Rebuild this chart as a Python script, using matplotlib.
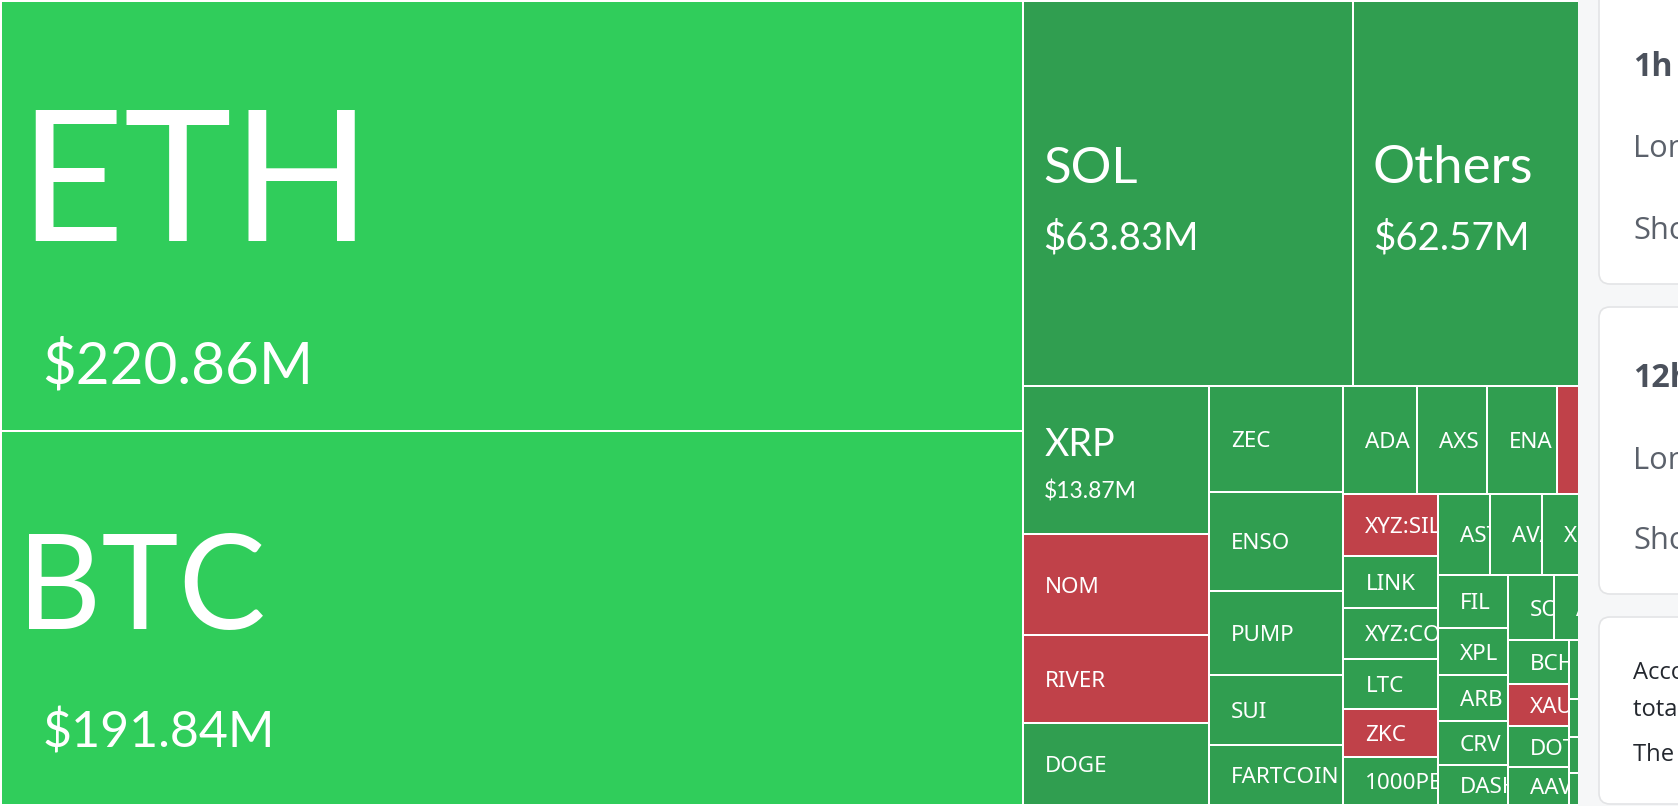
import matplotlib
matplotlib.use("Agg")
import matplotlib.pyplot as plt
from matplotlib.patches import Rectangle, FancyBboxPatch
from matplotlib.textpath import TextPath
from matplotlib.font_manager import FontProperties

# liquidations by coin, $M, in the order the treemap lays them out
coins = ["ETH", "BTC", "SOL", "Others", "XRP", "NOM", "RIVER", "DOGE",
         "ZEC", "ENSO", "PUMP", "SUI", "FARTCOIN",
         "ADA", "AXS", "ENA", "WLFI", "BNB",
         "XYZ:SILVER", "LINK", "XYZ:COPPER", "LTC", "ZKC", "1000PEPE",
         "ASTER", "AVAX", "XMR", "TRX", "UNI",
         "FIL", "XPL", "ARB", "CRV", "DASH",
         "SOON", "APT", "TAO", "NEAR",
         "BCH", "XAUT", "DOT", "AAVE",
         "ONDO", "OP", "TIA", "WIF", "INJ", "SEI", "JUP", "PENGU", "TON", "ETC"]
values = [220.86, 191.84, 63.83, 62.57, 13.87, 9.44, 8.22, 7.66,
          7.13, 6.73, 5.65, 4.71, 4.04,
          4.01, 3.80, 3.80, 3.50, 3.00,
          2.93, 2.45, 2.45, 2.36, 2.27, 2.27,
          2.12, 2.12, 2.10, 1.80, 1.62,
          1.86, 1.69, 1.62, 1.55, 1.41,
          1.50, 1.45, 1.35, 1.25,
          1.33, 1.27, 1.27, 1.15,
          1.10, 1.05, 1.04, 1.00, 0.93, 0.85, 0.80, 0.75, 0.72, 0.70]
# colour group of each cell
trend = ["hot", "hot", "up", "up", "up", "down", "down", "up",
         "up", "up", "up", "up", "up",
         "up", "up", "up", "down", "up",
         "down", "up", "up", "up", "down", "up",
         "up", "up", "up", "up", "up",
         "up", "up", "up", "up", "up",
         "up", "up", "up", "up",
         "up", "down", "up", "up",
         "up", "up", "up", "up", "up", "up", "up", "up", "up", "up"]

colors = {"hot": "#30CD5B", "up": "#309E50", "down": "#C04149"}

# big labels: (ink width px, ink left dx, baseline) for the name, then for the value
big_style = {
    "ETH":    ((320, 34, 240), (263, 44, 383)),
    "BTC":    ((234, 28, 198), (226, 44, 316)),
    "SOL":    ((92, 22, 182), (150, 22, 248)),
    "Others": ((156, 22, 182), (151, 22, 248)),
    "XRP":    ((69, 22, 70), (90, 22, 113)),
}

W, H = 1678, 806
PHI = (1 + 5 ** 0.5) / 2
BIG_FONT = ["Lato", "DejaVu Sans"]
SMALL_FONT = ["Noto Sans", "DejaVu Sans"]
PANEL_FONT = ["Open Sans", "DejaVu Sans"]


def squarify(vals, x0, y0, x1, y1, ratio=PHI):
    rects = [None] * len(vals)
    total = float(sum(vals))
    n = len(vals)
    i0 = 0
    while i0 < n:
        dx, dy = x1 - x0, y1 - y0
        s = vals[i0]
        lo = hi = s
        alpha = max(dy / dx, dx / dy) / (total * ratio)
        beta = s * s * alpha
        best = max(hi / beta, beta / lo)
        i1 = i0 + 1
        while i1 < n:
            v = vals[i1]
            s2 = s + v
            lo2, hi2 = min(lo, v), max(hi, v)
            beta = s2 * s2 * alpha
            r = max(hi2 / beta, beta / lo2)
            if r > best:
                break
            s, lo, hi, best = s2, lo2, hi2, r
            i1 += 1
        if dx < dy:
            h = dy * s / total
            x = x0
            for i in range(i0, i1):
                w = dx * vals[i] / s
                rects[i] = (x, y0, w, h)
                x += w
            y0 += h
        else:
            w = dx * s / total
            y = y0
            for i in range(i0, i1):
                h = dy * vals[i] / s
                rects[i] = (x0, y, w, h)
                y += h
            x0 += w
        total -= s
        i0 = i1
    return rects


def size_for_cap(family, cap_px, weight="normal"):
    fp = FontProperties(family=family, weight=weight)
    h = TextPath((0, 0), "H", size=100, prop=fp).get_extents().height
    return cap_px * 72.0 / h


def fit_width(family, text, width_px):
    # font size whose ink is width_px wide, and the ink's left bearing in px
    fp = FontProperties(family=family)
    ext = TextPath((0, 0), text, size=100, prop=fp).get_extents()
    fs = width_px * 72.0 / ext.width
    return fs, fs * ext.x0 / 72.0


fig = plt.figure(figsize=(W / 100, H / 100), dpi=100)
ax = fig.add_axes([0, 0, 1, 1])
ax.set_xlim(0, W)
ax.set_ylim(H, 0)
ax.axis("off")

small_fs = size_for_cap(SMALL_FONT, 16)
cells = squarify(values, 1, 1, W - 1, H - 1)
for name, val, tr, (x, y, w, h) in zip(coins, values, trend, cells):
    patch = Rectangle((x, y), w, h, facecolor=colors[tr], edgecolor="white", linewidth=1.44)
    ax.add_patch(patch)
    if name in big_style:
        labels = [name, "$%.2fM" % val]
        for txt, (wid, dx, by) in zip(labels, big_style[name]):
            fs, bear = fit_width(BIG_FONT, txt, wid)
            t = ax.text(x + dx - bear, y + by, txt, color="white", ha="left", va="baseline",
                        fontsize=fs, family=BIG_FONT, clip_on=True)
            t.set_clip_path(patch)
    else:
        t = ax.text(x + 22, y + h / 2 + 8, name, color="white", ha="left", va="baseline",
                    fontsize=small_fs, family=SMALL_FONT, clip_on=True)
        t.set_clip_path(patch)

# side panel that sits over the right of the treemap
ax.add_patch(Rectangle((1578, 0), 100, H, facecolor="#F6F7F8", edgecolor="none", zorder=5))
for top, bottom in [(-30, 284), (307, 594), (617, 804)]:
    ax.add_patch(FancyBboxPatch((1599, top), 200, bottom - top,
                                boxstyle="round,pad=0,rounding_size=11",
                                facecolor="white", edgecolor="#E3E4E6", linewidth=1.2, zorder=6))

head_fs = size_for_cap(PANEL_FONT, 23, "bold")
row_fs = size_for_cap(PANEL_FONT, 22)
note_fs = size_for_cap(PANEL_FONT, 17)
panel_text = [("1h", 76, head_fs, "bold", "#4B515C"),
              ("Long", 157, row_fs, "normal", "#5B616B"),
              ("Short", 239, row_fs, "normal", "#5B616B"),
              ("12h", 387, head_fs, "bold", "#4B515C"),
              ("Long", 469, row_fs, "normal", "#5B616B"),
              ("Short", 549, row_fs, "normal", "#5B616B"),
              ("According to the data", 679, note_fs, "normal", "#23272E"),
              ("total liquidations", 716, note_fs, "normal", "#23272E"),
              ("The largest single", 761, note_fs, "normal", "#23272E")]
for txt, yb, fs, wt, col in panel_text:
    ax.text(1633, yb, txt, fontsize=fs, fontweight=wt, color=col, family=PANEL_FONT,
            ha="left", va="baseline", zorder=7, clip_on=True)

fig.savefig("out.png", dpi=100)
